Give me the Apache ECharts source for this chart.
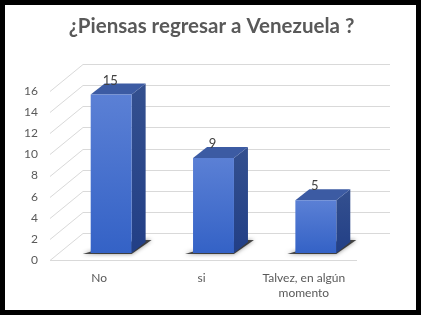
<!DOCTYPE html>
<html><head><meta charset="utf-8">
<script src="https://cdn.jsdelivr.net/npm/echarts@6/dist/echarts.min.js"></script>
<style>html,body{margin:0;padding:0;background:#fff}#c{width:423px;height:317px}</style>
</head><body><div id="c"></div>
<script>
const titleText = '¿Piensas regresar a Venezuela ?';
const categories = ['No', 'si', 'Talvez, en algún momento'];
const values = [15, 9, 5];
const yTicks = [0, 2, 4, 6, 8, 10, 12, 14, 16];

const FONT = 'Lato, "Open Sans", sans-serif';
const WALL_DX = 33, WALL_DY = -27;
const BAR_DX = 10, BAR_DY = -7;
const DEPTH_DX = 14, DEPTH_DY = -11;

const measureCtx = document.createElement('canvas').getContext('2d');
function textWidth(s, font) { measureCtx.font = font; return measureCtx.measureText(s).width; }

const chart = echarts.init(document.getElementById('c'));

function renderGrid(params, api) {
  const v = api.value(1);
  const band = api.size([1, 0])[0];
  const pL = api.coord([0, v]);
  const pR = api.coord([categories.length - 1, v]);
  const left = pL[0] - band / 2, right = pR[0] + band / 2, y = Math.round(pL[1]) + 0.5;
  const st = { stroke: '#d9d9d9', lineWidth: 1, fill: null };
  const children = [{
    type: 'polyline',
    shape: { points: [[left, y], [left + WALL_DX, y + WALL_DY], [right + WALL_DX, y + WALL_DY]] },
    style: st
  }];
  if (v === 0) {
    children.push({ type: 'line', shape: { x1: left, y1: y, x2: right, y2: y }, style: st });
  }
  return { type: 'group', children };
}

function renderBar(params, api) {
  const idx = api.value(0), v = api.value(1);
  const band = api.size([1, 0])[0];
  const top = api.coord([idx, v]), base = api.coord([idx, 0]);
  const w = band * 0.4;
  const x0 = top[0] - w / 2 + BAR_DX, x1 = x0 + w;
  const yt = top[1] + BAR_DY, yb = base[1] + BAR_DY;
  const labelFont = '12px ' + FONT;
  const lines = categories[idx].split(/(?<=algún) /);
  const labelEls = lines.map((s, k) => ({
    type: 'text',
    style: {
      text: s, x: top[0] - 2 - textWidth(s, labelFont) / 2, y: base[1] + 12 + k * 15,
      align: 'left', verticalAlign: 'top',
      fill: '#595959', font: labelFont
    }
  }));
  return {
    type: 'group',
    children: [
      {
        type: 'polygon',
        shape: { points: [[x0 - 8, yb + 1], [x1, yb + 1], [x1 + 20, yb - 13], [x1 + 6, yb - 13], [x0 + 2, yb - 2]] },
        style: { fill: 'rgba(20,20,20,0.75)', shadowBlur: 4, shadowColor: 'rgba(0,0,0,0.6)' }
      },
      {
        type: 'polygon',
        shape: { points: [[x1, yt], [x1 + DEPTH_DX, yt + DEPTH_DY], [x1 + DEPTH_DX, yb + DEPTH_DY], [x1, yb]] },
        style: { fill: new echarts.graphic.LinearGradient(0, 0, 0, 1, [{ offset: 0, color: '#34508f' }, { offset: 1, color: '#223f86' }]) }
      },
      {
        type: 'polygon',
        shape: { points: [[x0, yt], [x0 + DEPTH_DX, yt + DEPTH_DY], [x1 + DEPTH_DX, yt + DEPTH_DY], [x1, yt]] },
        style: { fill: '#3c5ba3' }
      },
      {
        type: 'rect',
        shape: { x: x0, y: yt, width: w, height: yb - yt },
        style: { fill: new echarts.graphic.LinearGradient(0, 0, 0, 1, [{ offset: 0, color: '#5b80d5' }, { offset: 1, color: '#3462c6' }]) }
      },
      {
        type: 'text',
        style: {
          text: String(v), x: (x0 + x1) / 2 - 1, y: yt + DEPTH_DY - 3,
          align: 'center', verticalAlign: 'middle',
          fill: '#404040', font: '13px ' + FONT
        }
      }
    ].concat(labelEls)
  };
}

chart.setOption({
  animation: false,
  backgroundColor: '#fff',
  title: {
    text: titleText, left: 'center', top: 11,
    textStyle: { color: '#595959', fontSize: 20.5, fontWeight: 'bold', fontFamily: FONT }
  },
  graphic: [{
    type: 'rect', z: 100, silent: true,
    shape: { x: 2.5, y: 2.5, width: 416, height: 310 },
    style: { fill: null, stroke: '#000', lineWidth: 5 }
  }],
  grid: { left: 50, right: 66, top: 91, bottom: 57 },
  xAxis: {
    type: 'category', data: categories,
    axisLine: { show: false }, axisTick: { show: false },
    axisLabel: { show: false }
  },
  yAxis: {
    type: 'value', min: 0, max: 16, interval: 2,
    axisLine: { show: false }, axisTick: { show: false }, splitLine: { show: false },
    axisLabel: { color: '#595959', fontSize: 12, fontFamily: FONT, margin: 12 }
  },
  series: [
    {
      type: 'custom', renderItem: renderGrid, silent: true, z: 1,
      encode: { x: 0, y: 1 },
      data: yTicks.map(v => [0, v])
    },
    {
      type: 'custom', renderItem: renderBar, z: 2,
      encode: { x: 0, y: 1 },
      data: values.map((v, i) => [i, v])
    }
  ]
});
</script>
</body></html>
